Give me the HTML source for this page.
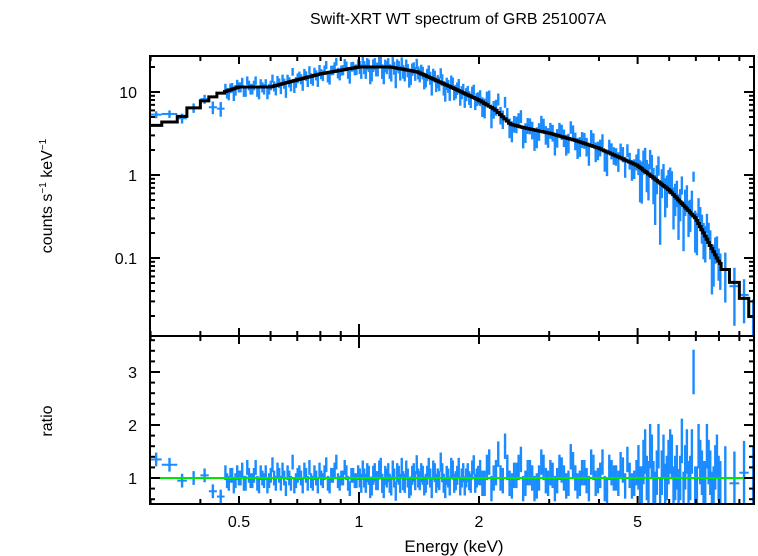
<!DOCTYPE html>
<html><head><meta charset="utf-8"><style>
body{margin:0;background:#fff}
svg{display:block;font-family:"Liberation Sans",sans-serif}
</style></head><body>
<svg id="c" width="758" height="556">
<text x="458" y="24" font-size="16" text-anchor="middle">Swift-XRT WT spectrum of GRB 251007A</text>
<text transform="translate(52,196) rotate(-90)" font-size="16" text-anchor="middle">counts s<tspan font-size="10" dy="-6">−1</tspan><tspan dy="6"> keV</tspan><tspan font-size="10" dy="-6">−1</tspan></text>
<text transform="translate(52,421) rotate(-90)" font-size="16" text-anchor="middle">ratio</text>
<text x="454" y="552" font-size="17" text-anchor="middle">Energy (keV)</text>
<g id="g"></g>
</svg>
<script>
// model knots (keV, counts/s/keV)
const modelE=[0.3,0.35,0.4,0.45,0.5,0.6,0.7,0.8,1.0,1.2,1.4,1.7,2.0,2.2,2.4,2.6,3.0,3.5,4.0,5.0,6.0,7.0,8.0,8.5,9.0,9.5,10];
const modelV=[3.8,4.6,7.4,9.7,11.5,11.5,14,16.5,20,20,17.5,11.5,8,6.1,4.1,3.7,3.2,2.6,2.1,1.3,0.66,0.30,0.09,0.063,0.041,0.026,0.015];
// low-energy wide bins
const lowEdges=[0.3,0.32,0.35,0.37,0.4,0.42,0.44,0.46];
const lowRatio=[1.35,1.25,0.95,1.0,1.05,0.75,0.65];
// dense segments: [start, end, count]
const segStart=[0.46,1,2,5];
const segEnd=[1,2,5,8.1];
const segCount=[80,80,70,50];
const segErr=[0.14,0.18,0.24,0.42];
const ratioA=[1.1,0.9,1.05,0.95,1.0,1.15,0.9,1.05,0.95,1.2,0.85,1.0,1.1,0.95,1.25,0.9,1.05,1.15,0.8,1.0,
1.3,0.95,1.1,0.85,1.05,1.2,0.9,1.0,1.15,0.95,1.25,0.85,1.05,1.3,0.9,1.0,1.1,0.8,1.05,0.95,
1.0,1.15,0.9,1.05,0.85,1.1,0.95,1.2,0.8,1.0,0.9,1.15,0.75,1.05,1.2,0.9,1.0,0.85,1.1,1.25,
0.95,1.05,0.9,1.2,0.8,1.1,1.0,1.3,0.9,1.05,0.85,1.15,0.95,1.2,1.0,0.85,1.1,0.9,1.25,1.0,
1.1,0.9,1.3,1.0,1.45,0.95,1.2,0.85,1.05,1.35,0.9,1.1,0.8,1.0,1.2,0.9,1.05,0.95,1.15,0.85,1.4,1.0,0.9,1.1,0.8,1.2,0.95,1.3,0.75,1.1,1.0,1.25,0.85,1.05,0.9,
1.2,0.8,1.5,0.9,1.4,0.7,1.6,1.1,0.85,1.3,1.4,1.0,0.75,1.7,1.2,0.9,1.5,0.8,1.6,1.1,0.9,1.3,0.7,1.2,1.0];
const ratioB=[0.95,1.05,0.85,1.1,1.0,0.9,1.2,0.95,1.05,0.9,1.1,0.95,0.85,1.05,1.0,1.15,0.9,1.0,1.1,0.9,
0.85,1.05,1.0,1.15,0.9,0.95,1.1,0.85,1.0,1.1,0.9,1.05,1.15,0.95,1.0,1.2,0.9,1.05,0.95,1.1,
0.9,1.0,1.1,0.8,1.05,0.95,1.15,0.9,1.05,1.1,0.85,1.0,1.1,0.9,0.95,1.15,0.8,1.05,0.95,1.0,
1.1,0.85,1.05,1.0,1.15,0.9,0.95,1.1,0.8,1.0,1.2,0.9,1.05,0.85,1.1,1.0,0.95,1.15,0.9,1.05,
0.9,1.2,0.8,1.1,1.0,1.6,0.9,1.05,1.2,0.8,1.1,1.0,0.85,1.3,0.95,1.1,0.8,1.2,1.0,0.9,1.25,0.85,1.1,0.95,1.3,0.9,1.05,0.8,1.2,1.0,0.9,1.15,1.35,0.85,1.1,
0.8,1.3,1.0,1.6,0.9,1.1,0.6,1.4,1.0,1.5,0.8,1.2,1.0,0.7,1.5,1.0,3.0,0.8,1.3,0.9,1.6,1.1,0.8,1.4,0.9];
const highEdges=[8.1,8.5,9.0,9.5,10];
const highRatio=[1.0,0.9,1.1,1.0];
const xTickLabels=["0.5","1","2","5"];
const yTopLabels=["0.1","1","10"];
const yBotLabels=["1","2","3"];

const L=150,R=754,T=56,M=336,B=504;
const X=e=>359+398.6*Math.log10(e);
const YT=v=>175-83*Math.log10(v);
const YB=r=>478-53*(r-1);
function model(e){
  if(e<=modelE[0])return modelV[0];
  for(let i=1;i<modelE.length;i++){if(e<=modelE[i]){const t=(Math.log(e)-Math.log(modelE[i-1]))/(Math.log(modelE[i])-Math.log(modelE[i-1]));return Math.exp(Math.log(modelV[i-1])+t*(Math.log(modelV[i])-Math.log(modelV[i-1])));}}
  return modelV[modelV.length-1];
}
const g=document.getElementById('g');const NS='http://www.w3.org/2000/svg';
function el(t,a,p){const e=document.createElementNS(NS,t);for(const k in a)e.setAttribute(k,a[k]);(p||g).appendChild(e);return e;}
const defs=el('defs',{});
const c1=el('clipPath',{id:'ct'},defs);el('rect',{x:L,y:T,width:R-L,height:M-T},c1);
const c2=el('clipPath',{id:'cb'},defs);el('rect',{x:L,y:M,width:R-L,height:B-M},c2);
const gt=el('g',{'clip-path':'url(#ct)'});const gb=el('g',{'clip-path':'url(#cb)'});
// build bins
const bins=[];
for(let i=0;i<lowRatio.length;i++)bins.push([lowEdges[i],lowEdges[i+1],lowRatio[i],0.13]);
let ka=0,kb=0;
for(let s=0;s<segStart.length;s++){const a=Math.log(segStart[s]),b=Math.log(segEnd[s]);
  for(let j=0;j<segCount[s];j++){const e0=Math.exp(a+(b-a)*j/segCount[s]),e1=Math.exp(a+(b-a)*(j+1)/segCount[s]);
    const r=(j%2===0)?ratioA[ka++]:ratioB[kb++];
    bins.push([e0,e1,r,segErr[s]]);}}
for(let i=0;i<highRatio.length;i++)bins.push([highEdges[i],highEdges[i+1],highRatio[i],0.6]);
// data
bins.forEach(bn=>{
  const [e0,e1,r,er]=bn;const ec=Math.sqrt(e0*e1);const m=model(ec);
  const x0=X(e0),x1=X(e1),xc=X(ec);
  const h1=el('line',{x1:x0,x2:x1,y1:YT(m*r),y2:YT(m*r),stroke:'#1a8cff','stroke-width':2},gt);
  
  el('line',{x1:xc,x2:xc,y1:YT(m*Math.max(r-er,0.05)),y2:YT(m*(r+er)),stroke:'#1a8cff','stroke-width':2.4},gt);
  const h2=el('line',{x1:x0,x2:x1,y1:YB(r),y2:YB(r),stroke:'#1a8cff','stroke-width':2},gb);
  
  el('line',{x1:xc,x2:xc,y1:YB(r-er),y2:YB(r+er),stroke:'#1a8cff','stroke-width':2.4},gb);
});
// green line (on top)
const gl=el('line',{x1:L,x2:R,y1:YB(1),y2:YB(1),stroke:'#00e600','stroke-width':2},gb);

// model step
let d='';
bins.forEach((b,i)=>{const v=YT(model(Math.sqrt(b[0]*b[1])));d+=(i?'L':'M')+X(b[0])+' '+v+'L'+X(b[1])+' '+v;});
const mp=el('path',{d:d,fill:'none',stroke:'#000','stroke-width':3},gt);

// frames
[[T,M],[M,B]].forEach(([a,b])=>el('rect',{x:L,y:a,width:R-L,height:b-a,fill:'none',stroke:'#000','stroke-width':2}));
// x ticks
const xt=[0.3,0.4,0.5,0.6,0.7,0.8,0.9,1,2,3,4,5,6,7,8,9];
xt.forEach(e=>{const x=X(e);const len=(e==1)?12:([0.5,2,5].includes(e)?8:5);
  [T,M,B].forEach(y=>{ if(y!==T) el('line',{x1:x,x2:x,y1:y,y2:y-len,stroke:'#000','stroke-width':2}); if(y!==B) el('line',{x1:x,x2:x,y1:y,y2:y+len,stroke:'#000','stroke-width':2});});});
[0.5,1,2,5].forEach((e,i)=>{const t=el('text',{x:X(e),y:527,'font-size':16,'text-anchor':'middle'});t.textContent=xTickLabels[i];
  });
// top y ticks
for(let dec=-2;dec<=1;dec++)for(let m=1;m<=9;m++){const v=m*Math.pow(10,dec);if(v<0.0115||v>27)continue;const y=YT(v);const len=m==1?10:5;
  el('line',{x1:L,x2:L+len,y1:y,y2:y,stroke:'#000','stroke-width':2});el('line',{x1:R,x2:R-len,y1:y,y2:y,stroke:'#000','stroke-width':2});}
[0.1,1,10].forEach((v,i)=>{const t=el('text',{x:137,y:YT(v)+6,'font-size':16,'text-anchor':'end'});t.textContent=yTopLabels[i];
  });
// bottom y ticks
for(let r=0.6;r<3.7;r+=0.2){const y=YB(r);const maj=Math.abs(r-Math.round(r))<0.01;const len=maj?10:5;
  el('line',{x1:L,x2:L+len,y1:y,y2:y,stroke:'#000','stroke-width':2});el('line',{x1:R,x2:R-len,y1:y,y2:y,stroke:'#000','stroke-width':2});}
[1,2,3].forEach((v,i)=>{const t=el('text',{x:137,y:YB(v)+6,'font-size':16,'text-anchor':'end'});t.textContent=yBotLabels[i];
  });
</script>
</body></html>
